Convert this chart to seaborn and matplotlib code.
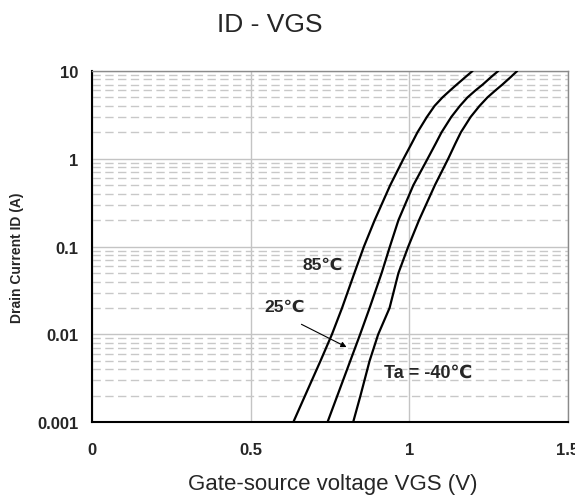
import numpy as np
import pandas as pd
import matplotlib
matplotlib.use("Agg")
import matplotlib.pyplot as plt
import seaborn as sns
from matplotlib.ticker import FixedLocator, LogLocator, NullLocator

# Drain current levels (A) and gate voltage read at each level, per temperature
current = [0.001, 0.002, 0.005, 0.01, 0.02, 0.05, 0.1, 0.2, 0.5, 1,
           1.5, 2, 3, 4, 5, 6, 7, 8.5, 10]
vgs_85 = [0.634, 0.671, 0.720, 0.756, 0.788, 0.827, 0.857, 0.891, 0.940, 0.982,
          1.008, 1.026, 1.056, 1.080, 1.105, 1.129, 1.150, 1.177, 1.200]
vgs_25 = [0.742, 0.773, 0.814, 0.845, 0.875, 0.913, 0.939, 0.966, 1.013, 1.058,
          1.084, 1.102, 1.133, 1.160, 1.184, 1.209, 1.232, 1.258, 1.281]
vgs_m40 = [0.823, 0.846, 0.875, 0.902, 0.938, 0.966, 0.997, 1.031, 1.081, 1.123,
           1.146, 1.163, 1.194, 1.222, 1.247, 1.272, 1.294, 1.320, 1.341]
temps = ["85", "25", "-40"]

x_ticks = [0, 0.5, 1, 1.5]
x_tick_labels = ["0", "0.5", "1", "1.5"]
y_ticks = [0.001, 0.01, 0.1, 1, 10]
y_tick_labels = ["0.001", "0.01", "0.1", "1", "10"]

df = pd.concat([
    pd.DataFrame({"VGS": v, "ID": current, "Ta": t})
    for t, v in zip(temps, [vgs_85, vgs_25, vgs_m40])
])

sns.set_style("white")
plt.rcParams["font.family"] = ["Liberation Sans", "DejaVu Sans", "Noto Sans CJK SC"]

fig = plt.figure(figsize=(5.75, 5.02), dpi=100)
ax = fig.add_axes([0.1607, 0.1568, 0.8264, 0.6998])

sns.lineplot(data=df, x="VGS", y="ID", hue="Ta", palette=["black"] * 3,
             estimator=None, legend=False, lw=1.6, ax=ax, zorder=3)

ax.set_yscale("log")
ax.set_xlim(0, 1.5)
ax.set_ylim(0.001, 10)

ax.xaxis.set_major_locator(FixedLocator(x_ticks))
ax.set_xticklabels(x_tick_labels)
ax.xaxis.set_minor_locator(NullLocator())
ax.yaxis.set_major_locator(FixedLocator(y_ticks))
ax.set_yticklabels(y_tick_labels)
ax.yaxis.set_minor_locator(LogLocator(base=10, subs=np.arange(2, 10)))
ax.yaxis.set_minor_formatter(plt.NullFormatter())

ax.grid(which="major", color="#c4c4c4", lw=1, ls="-")
ax.grid(which="minor", axis="y", color="#c8c8c8", lw=1, ls=(0, (6, 3.2)))
ax.set_axisbelow(True)

ax.tick_params(which="both", length=0)
ax.tick_params(axis="x", pad=14, labelsize=12)
ax.tick_params(axis="y", pad=10, labelsize=12)
for lbl in ax.get_xticklabels() + ax.get_yticklabels():
    lbl.set_fontweight("bold")

for side in ["left", "bottom"]:
    ax.spines[side].set_color("black")
    ax.spines[side].set_linewidth(1.5)
for side in ["top", "right"]:
    ax.spines[side].set_color("#8a8a8a")
    ax.spines[side].set_linewidth(1)

ax.set_xlabel("")
ax.set_ylabel("")

fig.text(0.4696, 0.937, "ID - VGS", ha="center", va="baseline", fontsize=19)
fig.text(0.579, 0.024, "Gate-source voltage VGS (V)", ha="center", va="baseline",
         fontsize=16)
fig.text(0.029, 0.487, "Drain Current ID (A)", ha="center", va="center",
         rotation=90, fontsize=10, fontweight="bold")

# curve labels
ax.text(0.727, 0.0634, "85℃", ha="center", va="center", fontsize=12.5, fontweight="bold")
ax.text(0.607, 0.0208, "25℃", ha="center", va="center", fontsize=12.5, fontweight="bold")
ax.text(1.059, 0.0037, "Ta = -40℃", ha="center", va="center", fontsize=13,
        fontweight="bold")
ax.annotate("", xy=(0.810, 0.00695), xytext=(0.652, 0.01349),
            arrowprops=dict(arrowstyle="-|>", color="black", lw=0.8,
                            mutation_scale=8))

fig.savefig("out.png", dpi=100)
